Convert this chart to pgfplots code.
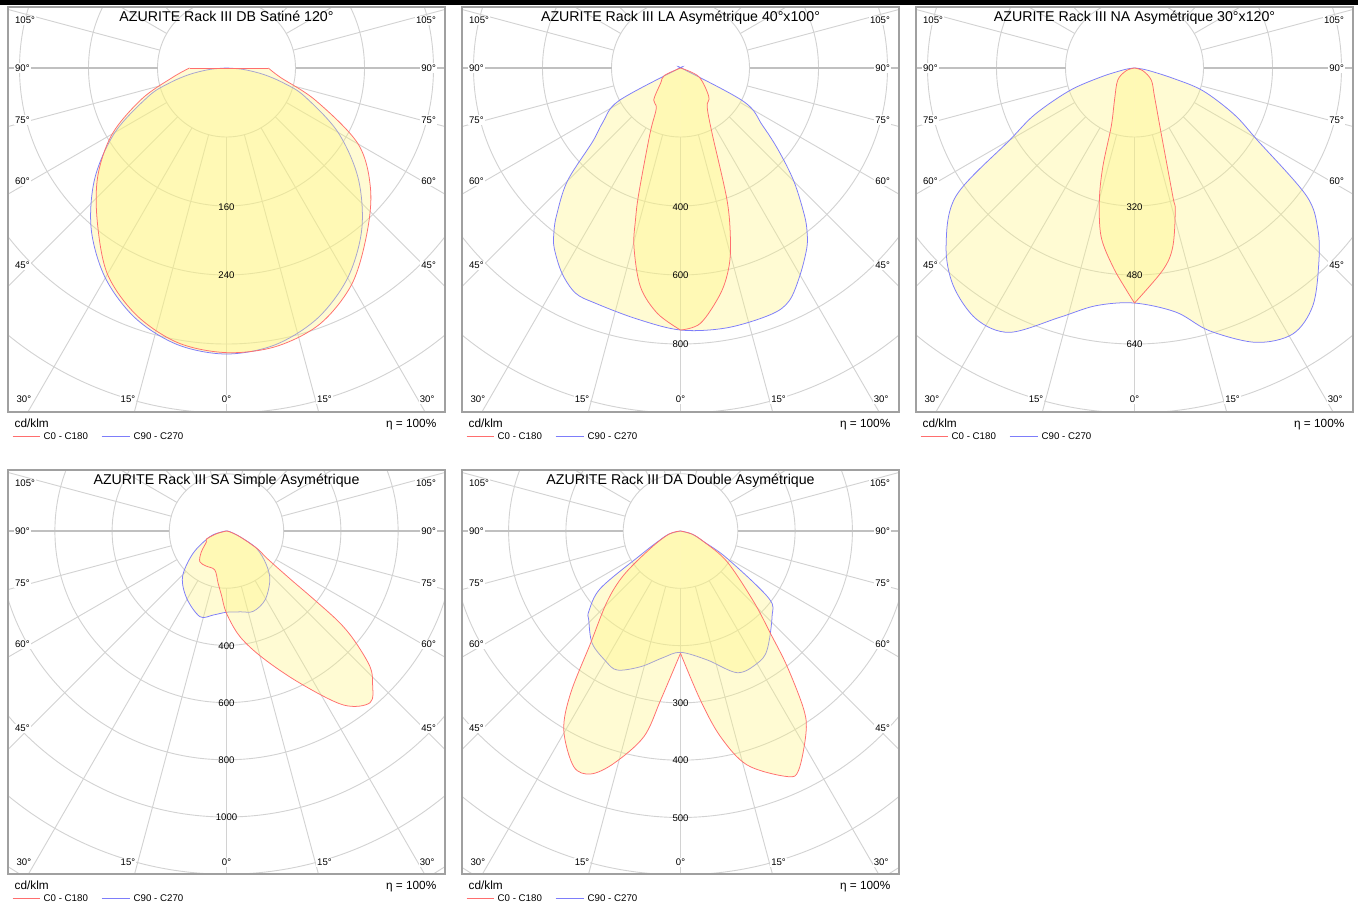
\documentclass[border=0pt]{standalone}
\usepackage{pgfplots}
\pgfplotsset{compat=1.18}
\usepackage{pgfplotstable}
\usepackage{fontspec}
\setmainfont{Liberation Sans}
\definecolor{redc}{RGB}{255,110,110}
\definecolor{bluec}{RGB}{125,125,250}
\definecolor{gridc}{RGB}{210,210,210}
\definecolor{gridd}{RGB}{192,192,192}
\definecolor{boxc}{RGB}{160,160,160}
\definecolor{fillc}{RGB}{255,245,120}

% ---------- data: g = angle from nadir (deg, negative = left), I = cd/klm
\pgfplotstableread{
g I
-90 0
-85 20
-80 44.3
-75 70
-70 96.6
-60 149.4
-50 199.4
-40 244
-30 281
-20 308.7
-10 325.8
0 331.6
10 325.8
20 308.7
30 281
40 244
50 199.4
60 149.4
70 96.6
75 70
80 44.3
85 20
90 0
}\pAblue
\pgfplotstableread{
g I
-90 42.9
-80 63.8
-70 104.3
-60 153
-50 194.8
-40 233
-30 276
-20 305
-10 323.5
0 330
10 328
20 316
30 290
40 252.7
50 218
60 176.2
70 110
80 63.8
90 48.5
}\pAred
\pgfplotstableread{
g I
-90 42.9
90 48.5
}\pAcap

\pgfplotstableread{
g I
-90 0
-70 8
-62 203
-55 275
-50 333
-45 464
-40 559.5
-37.5 603
-35 638
-30 687
-25 720
-20 725
-10 738
0 759.5
10 765
20 761
25 745
30 693
35 638
37.5 603
40 559.5
45 465
50 370
55 290
62 209
70 8
90 0
}\pBblue
\pgfplotstableread{
g I
-90 0
-65 52
-52.6 72.5
-40 121
-31 136
-25 209
-18.4 383
-16.5 459.5
-14.6 535.4
-10.4 644.4
-5.4 714.3
0 759.5
}\pBredL
\pgfplotstableread{
g I
0 759.5
4.5 742
10.1 663.3
13.7 592.9
16.2 519
19.4 405.9
25.8 210.2
34.5 136.3
44.6 116.8
64.6 58.8
90 0
}\pBredR

\pgfplotstableread{
g I
-90 0
-85 7
-80 27.8
-75 81.2
-70.8 159.5
-65 255
-60 334
-54.4 508.5
-46.7 600.3
-39.8 656.7
-32.2 688.2
-25.3 678
-16.7 603.6
-9.2 558.4
0 545
9.7 574.6
15.9 633.5
23.9 695.9
30.8 717.7
36.9 688.9
43.5 621
48.7 565.8
53.4 496.2
59.5 331.6
65 255
71.6 167
75 92.8
80 32.5
85 7
90 0
}\pCblue
\pgfplotstableread{
g I
-90 0
-72 20.2
-54.3 47.8
-32 87.4
-21.7 146.3
-17.8 240.5
-14.9 316.8
-11.2 398.8
-6.2 463.5
-2.1 515.2
0 545
}\pCredL
\pgfplotstableread{
g I
0 545
8 473
12.1 423.6
16 342.5
16.6 311.4
22.2 163.5
34.9 81.2
54.3 47.8
72 20.2
90 0
}\pCredR

\pgfplotstableread{
g I
-90 0
-80 15
-71 61.5
-56.3 140.6
-43.9 221.7
-30.6 273.4
-17.2 313.6
-8.9 297.2
0 284
10 287
18.4 296
29.2 276.2
41.5 228.7
50.2 180
60 121
66.8 50.7
80 10
90 0
}\pDblue
\pgfplotstableread{
g I
-90 0
-75 35
-68.3 75
-61.6 80
-50 115.4
-41 142.3
-30 141.6
-16.7 142.3
-9.1 185.3
-4.5 225
0 287.8
7.3 372.7
16.1 463.3
25.8 591.3
33.9 732.9
39.9 782.5
43.8 737.8
46.6 690.6
49.3 593
51 507
52 384.6
53 279.7
56 169.9
60 126
66.8 52
75 14
90 0
}\pDred

\pgfplotstableread{
g I
-90 0
-75 20.9
-65 43.6
-59 81.3
-54.4 171.7
-48.7 213.2
-45.9 223
-38.2 249.4
-30 261.8
-24.5 266.6
-16.4 246.9
-8 223.4
0 211.7
11.7 229.8
21.8 266.3
30 267
36 256.9
46.9 218.8
52.7 193.7
59.6 94.2
65.3 44.7
75 20.9
90 0
}\pEblue
\pgfplotstableread{
g I
-90 0
-75 20.9
-60 60.4
-52.2 125.3
-46.1 177.8
-38.7 251.1
-34.1 342.2
-30.4 402.6
-24.4 451.4
-20.3 452.1
-16 421.8
-10.1 364.5
-6.7 297
0 213.4
}\pEredL
\pgfplotstableread{
g I
0 213.4
6.7 297
11 365.6
15.9 424.6
23.5 467.3
26.3 465.4
31.8 415.5
34.6 379.2
38.2 301.2
41.3 237.8
46 177.6
56.6 97.4
65.3 44.7
75 20.9
90 0
}\pEredR

\pgfplotsset{
  pol/.style={scale only axis, width=218.5pt, anchor=north west,
    axis line style={boxc, line width=0.7pt}, ticks=none, clip=true},
  rc/.style={draw=redc, line width=0.38pt, fill=fillc, fill opacity=0.32, mark=none, smooth, tension=0.55},
  bc/.style={draw=bluec, line width=0.38pt, fill=fillc, fill opacity=0.32, mark=none, smooth, tension=0.55},
}
\newcommand{\pol}[2]{\addplot[#1] table[x expr={\thisrow{I}*sin(\thisrow{g})}, y expr={-\thisrow{I}*cos(\thisrow{g})}] {#2};}

% grid: x0, cy, r1 (pt), bottom offset
\newcommand{\polargrid}[4]{%
  \begin{scope}
    \clip (#1,#2-61) rectangle (#1+437,#2+#4);
    \foreach \k in {1,...,8} {\draw[gridc, line width=0.45pt] (#1+218.5,#2) circle[radius=\k*#3];}
    \foreach \a in {0,15,...,345} {\draw[gridc, line width=0.45pt] (#1+218.5,#2) ++(\a:#3) -- ++(\a:300pt);}
    \draw[gridd, line width=0.6pt] (#1+218.5,#2) ++(0:#3) -- ++(0:200pt);
    \draw[gridd, line width=0.6pt] (#1+218.5,#2) ++(180:#3) -- ++(180:200pt);
  \end{scope}}

% labels: x0, cy, box bottom, title
\newcommand{\panellabels}[4]{%
  \begin{scope}[every node/.style={font=\fontsize{4.8}{5.5}\selectfont, inner sep=0.6pt, fill=white}]
    \node[anchor=west] at (#1+5.5,#2-47.5) {105°};
    \node[anchor=west] at (#1+5.5,#2) {90°};
    \node[anchor=west] at (#1+5.5,#2+52) {75°};
    \node[anchor=west] at (#1+5.5,#2+113.5) {60°};
    \node[anchor=west] at (#1+5.5,#2+197.5) {45°};
    \node[anchor=east] at (#1+429.5,#2-47.5) {105°};
    \node[anchor=east] at (#1+429.5,#2) {90°};
    \node[anchor=east] at (#1+429.5,#2+52) {75°};
    \node[anchor=east] at (#1+429.5,#2+113.5) {60°};
    \node[anchor=east] at (#1+429.5,#2+197.5) {45°};
    \node[anchor=west] at (#1+7,#2+331.5) {30°};
    \node at (#1+120,#2+331.5) {15°};
    \node at (#1+218.5,#2+331.5) {0°};
    \node at (#1+316.5,#2+331.5) {15°};
    \node[anchor=east] at (#1+428,#2+331.5) {30°};
  \end{scope}
  \node[font=\fontsize{7.1}{8}\selectfont, anchor=base, inner sep=0pt] at (#1+218.5,#2-46.5) {#4};
  \node[font=\fontsize{5.9}{7}\selectfont, anchor=base west, inner sep=0pt] at (#1+6.3,#3+15) {cd/klm};
  \node[font=\fontsize{5.9}{7}\selectfont, anchor=base east, inner sep=0pt] at (#1+428.7,#3+15) {η = 100\%};
  \draw[redc, line width=0.45pt] (#1+4.7,#3+24) -- (#1+32,#3+24);
  \node[font=\fontsize{4.85}{6}\selectfont, anchor=west, inner sep=0pt] at (#1+35.3,#3+24) {C0 - C180};
  \draw[bluec, line width=0.45pt] (#1+93.7,#3+24) -- (#1+122,#3+24);
  \node[font=\fontsize{4.85}{6}\selectfont, anchor=west, inner sep=0pt] at (#1+125.3,#3+24) {C90 - C270};
}

\begin{document}
\begin{tikzpicture}
\begin{scope}[x=0.5pt, y=-0.5pt]
  \path[use as bounding box] (0,0) rectangle (1364,905);
  \fill[white] (0,0) rectangle (1364,905);
  \fill[black] (0,0) rectangle (1358,5);
  \polargrid{8}{68}{34.5pt}{344}
  \polargrid{462}{68}{34.5pt}{344}
  \polargrid{916}{68}{34.5pt}{344}
  \polargrid{8}{531}{28.6pt}{343}
  \polargrid{462}{531}{28.65pt}{343}
\end{scope}

% Panel 1: DB Satine 120
\begin{axis}[pol, at={(4pt,-3.5pt)}, height=202.5pt,
  xmin=-253.33, xmax=253.33, ymin=-398.84, ymax=70.72]
  \pol{bc}{\pAblue}
  \pol{rc}{\pAred}
  \addplot[draw=redc, line width=0.38pt, mark=none] table[x expr={\thisrow{I}*sin(\thisrow{g})}, y expr={-\thisrow{I}*cos(\thisrow{g})}] {\pAcap};
\end{axis}
% Panel 2: LA 40x100
\begin{axis}[pol, at={(231pt,-3.5pt)}, height=202.5pt,
  xmin=-633.33, xmax=633.33, ymin=-997.1, ymax=176.81]
  \pol{bc}{\pBblue}
  \pol{rc}{\pBredL}
  \pol{rc}{\pBredR}
\end{axis}
% Panel 3: NA 30x120
\begin{axis}[pol, at={(458pt,-3.5pt)}, height=202.5pt,
  xmin=-506.67, xmax=506.67, ymin=-797.68, ymax=141.45]
  \pol{bc}{\pCblue}
  \pol{rc}{\pCredL}
  \pol{rc}{\pCredR}
\end{axis}
% Panel 4: SA
\begin{axis}[pol, at={(4pt,-235pt)}, height=202pt,
  xmin=-763.99, xmax=763.99, ymin=-1199.3, ymax=213.29]
  \pol{bc}{\pDblue}
  \pol{rc}{\pDred}
\end{axis}
% Panel 5: DA
\begin{axis}[pol, at={(231pt,-235pt)}, height=202pt,
  xmin=-381.33, xmax=381.33, ymin=-598.6, ymax=106.46]
  \pol{bc}{\pEblue}
  \pol{rc}{\pEredL}
  \pol{rc}{\pEredR}
\end{axis}

\begin{scope}[x=0.5pt, y=-0.5pt]
  \panellabels{8}{68}{412}{AZURITE Rack III DB Satiné 120°}
  \panellabels{462}{68}{412}{AZURITE Rack III LA Asymétrique 40°x100°}
  \panellabels{916}{68}{412}{AZURITE Rack III NA Asymétrique 30°x120°}
  \panellabels{8}{531}{874}{AZURITE Rack III SA Simple Asymétrique}
  \panellabels{462}{531}{874}{AZURITE Rack III DA Double Asymétrique}
  \begin{scope}[every node/.style={font=\fontsize{4.8}{5.5}\selectfont, inner sep=0pt}]
    \node at (226.5,206.7) {160};
    \node at (226.5,275) {240};
    \node at (680.5,206.7) {400};
    \node at (680.5,275.5) {600};
    \node at (680.5,344.3) {800};
    \node at (1134.5,206.7) {320};
    \node at (1134.5,275.5) {480};
    \node at (1134.5,344.3) {640};
    \node at (226.5,645.7) {400};
    \node at (226.5,702.8) {600};
    \node at (226.5,760) {800};
    \node at (226.5,817.3) {1000};
    \node at (680.5,703) {300};
    \node at (680.5,760.3) {400};
    \node at (680.5,817.7) {500};
  \end{scope}
\end{scope}
\end{tikzpicture}
\end{document}
